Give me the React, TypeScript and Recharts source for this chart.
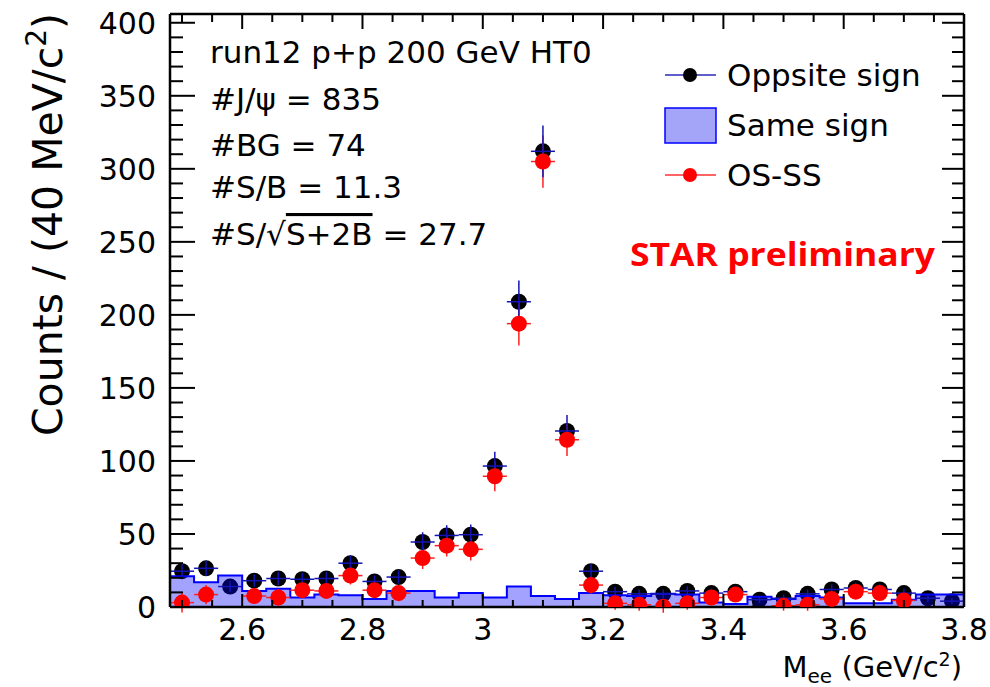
import React from 'react';
import { ComposedChart, Area, Scatter, ErrorBar, XAxis, YAxis } from 'recharts';

// 40 MeV bins, centres in GeV/c^2
const binCenters = [
  2.5, 2.54, 2.58, 2.62, 2.66, 2.7, 2.74, 2.78, 2.82, 2.86, 2.9,
  2.94, 2.98, 3.02, 3.06, 3.1, 3.14, 3.18, 3.22, 3.26, 3.3, 3.34,
  3.38, 3.42, 3.46, 3.5, 3.54, 3.58, 3.62, 3.66, 3.7, 3.74, 3.78,
];
const oppositeSign = [
  24.5, 26.5, 14, 18, 19.5, 19, 19.5, 30, 17.5, 20.5, 44.5,
  49, 49.5, 96.5, 209, 312, 120.5, 24.5, 10.5, 9, 9, 11,
  9.5, 10.5, 5, 6, 9, 12, 13, 12, 9.5, 6, 4,
];
const oppositeSignErr = [
  5, 5.2, 3.7, 4.2, 4.4, 4.4, 4.4, 5.5, 4.2, 4.5, 6.7,
  7, 7, 9.8, 14.5, 17.7, 11, 5, 3.2, 3, 3, 3.3,
  3.1, 3.2, 2.2, 2.4, 3, 3.5, 3.6, 3.5, 3.1, 2.4, 2,
];
const sameSign = [
  21, 17, 21.5, 11, 12.5, 6.5, 8.5, 8, 5.5, 11, 11,
  6.5, 9.5, 6.5, 14, 7.5, 5.5, 9.5, 8, 7.5, 9, 8.5,
  3, 2, 7, 5.5, 7.5, 6.5, 2.5, 2.5, 5, 8.5, 8.5,
];
const osMinusSs: (number | null)[] = [
  3, 8.5, null, 7.5, 6.5, 11.5, 11, 21.5, 11.5, 9.5, 33.5,
  42, 39.5, 89.5, 194, 305, 114.5, 15, 2.5, 1.5, 0.2, 2.5,
  6.5, 8.5, null, 0.8, 1.5, 5.5, 10.5, 9.5, 4.5, null, null,
];
const osMinusSsErr = [
  6.7, 6.6, 0, 5.4, 5.6, 5.1, 5.3, 6.1, 4.8, 5.6, 7.5,
  7.4, 7.7, 10.2, 14.9, 17.9, 11.2, 5.8, 4.3, 4.1, 4.2, 4.4,
  3.5, 3.5, 0, 3.3, 4.1, 4.2, 3.9, 3.8, 3.8, 0, 0,
];

const xMajorTicks = [2.6, 2.8, 3, 3.2, 3.4, 3.6, 3.8];
const xMajorLabels = ['2.6', '2.8', '3', '3.2', '3.4', '3.6', '3.8'];
const yMajorTicks = [0, 50, 100, 150, 200, 250, 300, 350, 400];
const yMajorLabels = ['0', '50', '100', '150', '200', '250', '300', '350', '400'];

const annotations = [
  'run12 p+p 200 GeV HT0',
  '#J/\u03C8 = 835',
  '#BG = 74',
  '#S/B = 11.3',
];

const X_MIN = 2.48;
const X_MAX = 3.8;
const Y_MAX = 406;
const HALF_BIN = 0.02;
const FONT = '"DejaVu Sans", sans-serif';

// minor ticks every 0.05 on x, every 10 on y
const xTicks: number[] = [];
for (let i = 0; i <= 26; i++) xTicks.push(Math.round((2.5 + i * 0.05) * 100) / 100);
const yTicks: number[] = [];
for (let v = 0; v <= 400; v += 10) yTicks.push(v);

const lastBin = binCenters.length - 1;
const histData = [
  { x: X_MIN, ss: sameSign[0] },
  ...binCenters.map((x, i) => ({ x, ss: sameSign[i] })),
  { x: X_MAX, ss: sameSign[lastBin] },
];
const osPoints = binCenters.map((x, i) => ({
  x, y: oppositeSign[i], ey: oppositeSignErr[i], ex: HALF_BIN,
}));
const subPoints = binCenters
  .map((x, i) => ({ x, y: osMinusSs[i], ey: osMinusSsErr[i], ex: HALF_BIN }))
  .filter((p) => p.y !== null);

const majorIndex = (list: number[], v: number) =>
  list.findIndex((m) => Math.abs(m - v) < 1e-6);

const BottomTick = ({ x, y, payload }: any) => {
  const idx = majorIndex(xMajorTicks, payload.value);
  const len = idx >= 0 ? 13 : 7;
  return (
    <g>
      <line x1={x} x2={x} y1={y} y2={y - len} stroke="#000" strokeWidth={2} />
      {idx >= 0 && (
        <text x={x} y={y + 33} textAnchor="middle" fontSize={30} fontFamily={FONT} fill="#000">
          {xMajorLabels[idx]}
        </text>
      )}
    </g>
  );
};

const TopTick = ({ x, y, payload }: any) => {
  const len = majorIndex(xMajorTicks, payload.value) >= 0 ? 15 : 8;
  return <line x1={x} x2={x} y1={y} y2={y + len} stroke="#000" strokeWidth={2} />;
};

const LeftTick = ({ x, y, payload }: any) => {
  const idx = majorIndex(yMajorTicks, payload.value);
  const len = idx >= 0 ? 25 : 13;
  return (
    <g>
      <line x1={x} x2={x + len} y1={y} y2={y} stroke="#000" strokeWidth={2} />
      {idx >= 0 && (
        <text x={x - 14} y={y + 11} textAnchor="end" fontSize={30} fontFamily={FONT} fill="#000">
          {yMajorLabels[idx]}
        </text>
      )}
    </g>
  );
};

const RightTick = ({ x, y, payload }: any) => {
  const len = majorIndex(yMajorTicks, payload.value) >= 0 ? 22 : 12;
  return <line x1={x} x2={x - len} y1={y} y2={y} stroke="#000" strokeWidth={2} />;
};

const BlackDot = (p: any) => <circle cx={p.cx} cy={p.cy} r={8} fill="#000" />;
const RedDot = (p: any) => <circle cx={p.cx} cy={p.cy} r={8} fill="#ff0000" />;

const axisLine = { stroke: '#000', strokeWidth: 2.5 };

function Overlay() {
  const lineY = [63, 110, 156, 198];
  return (
    <svg
      width={990}
      height={687}
      style={{ position: 'absolute', left: 0, top: 0, pointerEvents: 'none' }}
    >
      {annotations.map((t, i) => (
        <text key={t} x={210} y={lineY[i]} fontSize={31} fontFamily={FONT} fill="#000">
          {t}
        </text>
      ))}
      <text x={210} y={245} fontSize={31} fontFamily={FONT} fill="#000">
        #S/{'\u221A'}
        <tspan style={{ textDecoration: 'overline' }}>S+2B</tspan> = 27.7
      </text>

      {/* legend */}
      <line x1={665} x2={716} y1={75} y2={75} stroke="#2a2ab8" strokeWidth={1.5} />
      <circle cx={690} cy={75} r={7} fill="#000" />
      <text x={727} y={86} fontSize={31} fontFamily={FONT} fill="#000">Oppsite sign</text>
      <rect x={665} y={108} width={51} height={35} fill="#a4a4f8" stroke="#0000ff" strokeWidth={1.5} />
      <text x={727} y={136} fontSize={31} fontFamily={FONT} fill="#000">Same sign</text>
      <line x1={665} x2={716} y1={175} y2={175} stroke="#ff3030" strokeWidth={1.5} />
      <circle cx={690} cy={175} r={7} fill="#ff0000" />
      <text x={727} y={186} fontSize={31} fontFamily={FONT} fill="#000">OS-SS</text>

      <text
        x={630}
        y={266}
        fontSize={33}
        fontWeight="bold"
        fontFamily='"Open Sans", sans-serif'
        fill="#ff0000"
        textLength={305}
        lengthAdjust="spacingAndGlyphs"
      >
        STAR preliminary
      </text>

      {/* axis titles */}
      <text
        transform="translate(62, 13) rotate(-90)"
        textAnchor="end"
        fontSize={41}
        fontFamily={FONT}
        fill="#000"
      >
        Counts / (40 MeV/c<tspan fontSize={28} dy={-16}>2</tspan>
        <tspan dy={16}>)</tspan>
      </text>
      <text x={962} y={677} textAnchor="end" fontSize={29} fontFamily={FONT} fill="#000">
        M<tspan fontSize={20} dy={6}>ee</tspan>
        <tspan dy={-6}> (GeV/c</tspan>
        <tspan fontSize={19} dy={-11}>2</tspan>
        <tspan dy={11}>)</tspan>
      </text>
    </svg>
  );
}

export default function App() {
  return (
    <div style={{ position: 'absolute', left: 0, top: 0, width: 990, height: 687, background: '#fff' }}>
      <ComposedChart
        width={990}
        height={687}
        data={histData}
        margin={{ top: 13, right: 25, bottom: 79, left: 169 }}
      >
        <XAxis
          xAxisId="bottom"
          dataKey="x"
          type="number"
          domain={[X_MIN, X_MAX]}
          ticks={xTicks}
          interval={0}
          height={1}
          tickSize={0}
          tickMargin={0}
          tickLine={false}
          axisLine={axisLine}
          tick={<BottomTick />}
          allowDataOverflow
        />
        <XAxis
          xAxisId="top"
          orientation="top"
          dataKey="x"
          type="number"
          domain={[X_MIN, X_MAX]}
          ticks={xTicks}
          interval={0}
          height={1}
          tickSize={0}
          tickMargin={0}
          tickLine={false}
          axisLine={axisLine}
          tick={<TopTick />}
          allowDataOverflow
        />
        <YAxis
          yAxisId="left"
          type="number"
          domain={[0, Y_MAX]}
          ticks={yTicks}
          interval={0}
          width={1}
          tickSize={0}
          tickMargin={0}
          tickLine={false}
          axisLine={axisLine}
          tick={<LeftTick />}
          allowDataOverflow
        />
        <YAxis
          yAxisId="right"
          orientation="right"
          type="number"
          domain={[0, Y_MAX]}
          ticks={yTicks}
          interval={0}
          width={1}
          tickSize={0}
          tickMargin={0}
          tickLine={false}
          axisLine={axisLine}
          tick={<RightTick />}
          allowDataOverflow
        />

        <Scatter
          xAxisId="bottom"
          yAxisId="left"
          data={osPoints}
          dataKey="y"
          shape={BlackDot}
          isAnimationActive={false}
          zIndex={50}
        >
          <ErrorBar dataKey="ey" direction="y" width={0} stroke="#1414b4" strokeWidth={1.5} isAnimationActive={false} />
          <ErrorBar dataKey="ex" direction="x" width={0} stroke="#1414b4" strokeWidth={1.5} isAnimationActive={false} />
        </Scatter>
        <Area
          xAxisId="bottom"
          yAxisId="left"
          dataKey="ss"
          type="step"
          fill="#0000ff"
          fillOpacity={0.36}
          stroke="#0000ff"
          strokeWidth={2}
          dot={false}
          activeDot={false}
          isAnimationActive={false}
          zIndex={100}
        />
        <Scatter
          xAxisId="bottom"
          yAxisId="left"
          data={subPoints}
          dataKey="y"
          shape={RedDot}
          isAnimationActive={false}
          zIndex={600}
        >
          <ErrorBar dataKey="ey" direction="y" width={0} stroke="#ff2020" strokeWidth={1.5} isAnimationActive={false} />
          <ErrorBar dataKey="ex" direction="x" width={0} stroke="#ff2020" strokeWidth={1.5} isAnimationActive={false} />
        </Scatter>
      </ComposedChart>
      <Overlay />
    </div>
  );
}
